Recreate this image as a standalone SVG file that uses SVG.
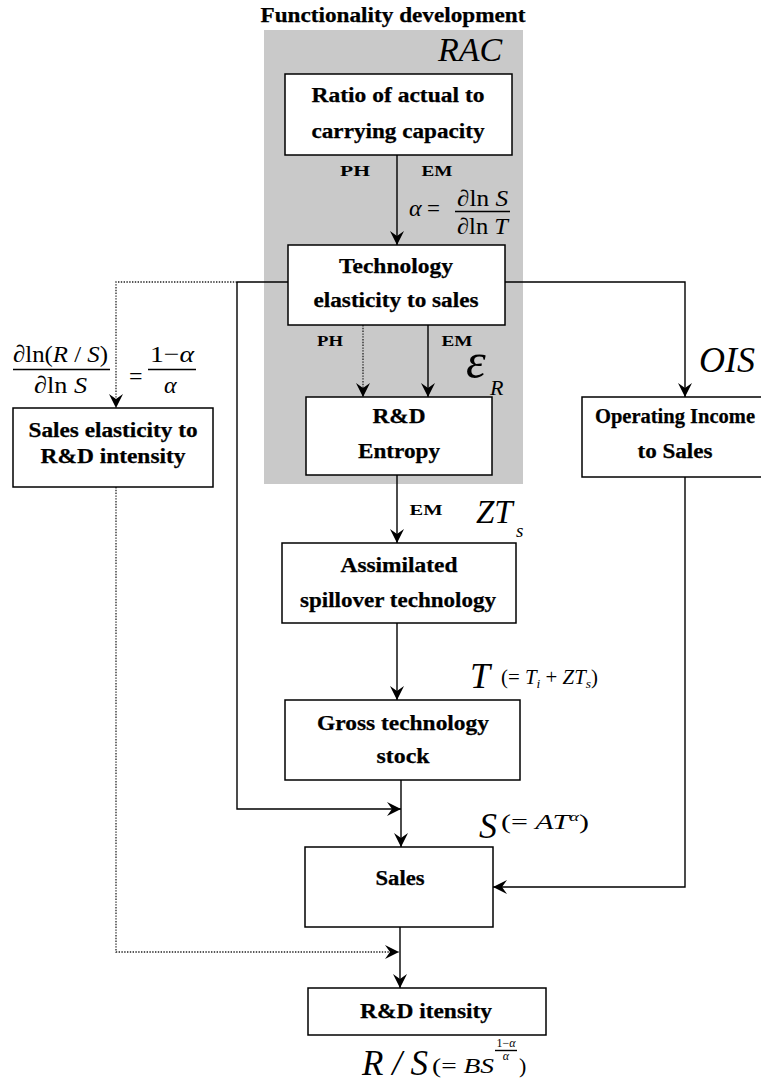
<svg xmlns="http://www.w3.org/2000/svg" width="761" height="1082" viewBox="0 0 761 1082">
<defs>
<marker id="ah" viewBox="-15 -8 16 16" refX="0" refY="0" markerWidth="16" markerHeight="16" markerUnits="userSpaceOnUse" orient="auto"><path d="M-14,-7 L0,0 L-14,7 L-9,0 Z" fill="#000"/></marker>
<style>
.box{fill:#fff;stroke:#000;stroke-width:1.5}
.ln{fill:none;stroke:#000;stroke-width:1.4}
.dt{fill:none;stroke:#222;stroke-width:1.3;stroke-dasharray:1.4 1.4}
.b{font-family:"Liberation Serif","Times New Roman",serif;font-weight:bold;font-size:20px;text-anchor:middle;fill:#000;stroke:#000;stroke-width:0.25}
.s{font-family:"Liberation Serif","Times New Roman",serif;font-weight:bold;font-size:15px;text-anchor:middle;fill:#000}
.m{font-family:"Liberation Serif","Times New Roman",serif;fill:#000}
.i{font-style:italic}
</style>
</defs>
<rect id="functionality-area" x="264" y="30" width="259" height="454" fill="#c9c9c9"/>
<text class="b" x="393" y="22" textLength="265" lengthAdjust="spacingAndGlyphs">Functionality development</text>
<text class="m i" x="438" y="61" font-size="34">RAC</text>

<g id="connectors">
<line class="ln" x1="397" y1="155" x2="397" y2="245" marker-end="url(#ah)"/>
<line class="dt" x1="363" y1="325" x2="363" y2="397" marker-end="url(#ah)"/>
<line class="ln" x1="428" y1="325" x2="428" y2="397" marker-end="url(#ah)"/>
<polyline class="ln" points="288,282 237,282"/>
<polyline class="dt" points="237,282 116,282 116,408" marker-end="url(#ah)"/>
<polyline class="ln" points="237,282 237,809 401,809" marker-end="url(#ah)"/>
<polyline class="ln" points="505,282 685,282 685,397" marker-end="url(#ah)"/>
<line class="ln" x1="397" y1="475" x2="397" y2="543" marker-end="url(#ah)"/>
<line class="ln" x1="397" y1="623" x2="397" y2="700" marker-end="url(#ah)"/>
<line class="ln" x1="401" y1="780" x2="401" y2="847" marker-end="url(#ah)"/>
<polyline class="ln" points="685,477 685,887 493,887" marker-end="url(#ah)"/>
<polyline class="dt" points="116,487 116,952 399,952" marker-end="url(#ah)"/>
<line class="ln" x1="400" y1="927" x2="400" y2="988" marker-end="url(#ah)"/>
</g>

<g id="node-ratio">
<rect class="box" x="285" y="74" width="227" height="81"/>
<text class="b" x="398" y="102" textLength="173" lengthAdjust="spacingAndGlyphs">Ratio of actual to</text>
<text class="b" x="398" y="138" textLength="173" lengthAdjust="spacingAndGlyphs">carrying capacity</text>
</g>
<g id="node-technology">
<rect class="box" x="288" y="245" width="217" height="80"/>
<text class="b" x="396" y="273" textLength="114" lengthAdjust="spacingAndGlyphs">Technology</text>
<text class="b" x="396" y="307" textLength="165" lengthAdjust="spacingAndGlyphs">elasticity to sales</text>
</g>
<g id="node-entropy">
<rect class="box" x="306" y="397" width="186" height="78"/>
<text class="b" x="399" y="423" textLength="53" lengthAdjust="spacingAndGlyphs">R&amp;D</text>
<text class="b" x="399" y="458" textLength="82" lengthAdjust="spacingAndGlyphs">Entropy</text>
</g>
<g id="node-sales-elasticity">
<rect class="box" x="13" y="408" width="200" height="79"/>
<text class="b" x="113" y="437" textLength="169" lengthAdjust="spacingAndGlyphs">Sales elasticity to</text>
<text class="b" x="113" y="463" textLength="145" lengthAdjust="spacingAndGlyphs">R&amp;D intensity</text>
</g>
<g id="node-operating">
<rect class="box" x="582" y="397" width="190" height="80"/>
<text class="b" x="675" y="423" textLength="160" lengthAdjust="spacingAndGlyphs">Operating Income</text>
<text class="b" x="675" y="458" textLength="75" lengthAdjust="spacingAndGlyphs">to Sales</text>
</g>
<g id="node-assimilated">
<rect class="box" x="282" y="543" width="234" height="80"/>
<text class="b" x="399" y="572" textLength="117" lengthAdjust="spacingAndGlyphs">Assimilated</text>
<text class="b" x="398" y="607" textLength="196" lengthAdjust="spacingAndGlyphs">spillover technology</text>
</g>
<g id="node-gross">
<rect class="box" x="285" y="700" width="235" height="80"/>
<text class="b" x="403" y="730" textLength="172" lengthAdjust="spacingAndGlyphs">Gross technology</text>
<text class="b" x="403" y="763" textLength="53" lengthAdjust="spacingAndGlyphs">stock</text>
</g>
<g id="node-sales">
<rect class="box" x="305" y="847" width="188" height="80"/>
<text class="b" x="400" y="885" textLength="49" lengthAdjust="spacingAndGlyphs">Sales</text>
</g>
<g id="node-rd-intensity">
<rect class="box" x="308" y="988" width="238" height="47"/>
<text class="b" x="426" y="1018" textLength="132" lengthAdjust="spacingAndGlyphs">R&amp;D itensity</text>
</g>

<g id="labels">
<text class="s" x="355" y="176" textLength="30" lengthAdjust="spacingAndGlyphs">PH</text>
<text class="s" x="437" y="176" textLength="31" lengthAdjust="spacingAndGlyphs">EM</text>
<text class="s" x="330" y="346" textLength="26" lengthAdjust="spacingAndGlyphs">PH</text>
<text class="s" x="457" y="346" textLength="31" lengthAdjust="spacingAndGlyphs">EM</text>
<text class="s" x="426" y="515" textLength="33" lengthAdjust="spacingAndGlyphs">EM</text>

<text class="m i" x="409" y="216" font-size="24">α</text>
<text class="m" x="427" y="216" font-size="23">=</text>
<text class="m" x="457" y="206" font-size="23" textLength="51" lengthAdjust="spacingAndGlyphs">∂ln <tspan class="i">S</tspan></text>
<line class="ln" x1="455" y1="211.5" x2="510" y2="211.5" stroke-width="1"/>
<text class="m" x="457" y="234" font-size="23" textLength="51" lengthAdjust="spacingAndGlyphs">∂ln <tspan class="i">T</tspan></text>

<text class="m i" x="466" y="378" font-size="50">ε</text>
<text class="m i" x="490" y="395" font-size="22">R</text>

<text class="m i" x="699" y="372" font-size="36">OIS</text>

<text class="m" x="13" y="362" font-size="24" textLength="95" lengthAdjust="spacingAndGlyphs">∂ln(<tspan class="i">R</tspan> / <tspan class="i">S</tspan>)</text>
<line class="ln" x1="13" y1="369.5" x2="110" y2="369.5" stroke-width="1"/>
<text class="m" x="34" y="393" font-size="24" textLength="53" lengthAdjust="spacingAndGlyphs">∂ln <tspan class="i">S</tspan></text>
<text class="m" x="129" y="384" font-size="24">=</text>
<text class="m" x="150" y="362" font-size="24" textLength="44" lengthAdjust="spacingAndGlyphs">1−<tspan class="i">α</tspan></text>
<line class="ln" x1="148" y1="369.5" x2="196" y2="369.5" stroke-width="1"/>
<text class="m i" x="164" y="393" font-size="24">α</text>

<text class="m i" x="476" y="523" font-size="33">ZT</text>
<text class="m i" x="516" y="537" font-size="19">s</text>

<text class="m i" x="470" y="688" font-size="36">T</text>
<text class="m" x="501" y="684" font-size="20" textLength="97" lengthAdjust="spacingAndGlyphs">(= <tspan class="i">T</tspan><tspan class="i" font-size="13" dy="4">i</tspan><tspan dy="-4"> + </tspan><tspan class="i">ZT</tspan><tspan class="i" font-size="13" dy="4">s</tspan><tspan dy="-4">)</tspan></text>

<text class="m i" x="479" y="838" font-size="36">S</text>
<text class="m" x="501" y="829" font-size="21" textLength="88" lengthAdjust="spacingAndGlyphs">(= <tspan class="i">AT</tspan><tspan class="i" font-size="13" dy="-8">α</tspan><tspan dy="8">)</tspan></text>

<text class="m i" x="362" y="1075" font-size="35">R / S</text>
<text class="m" x="432" y="1073" font-size="22" textLength="62" lengthAdjust="spacingAndGlyphs">(= <tspan class="i">BS</tspan></text>
<text class="m" x="506" y="1047" font-size="12" text-anchor="middle">1−<tspan class="i">α</tspan></text>
<line class="ln" x1="495" y1="1050.5" x2="517" y2="1050.5" stroke-width="0.8"/>
<text class="m i" x="506" y="1060" font-size="12" text-anchor="middle">α</text>
<text class="m" x="519" y="1073" font-size="22">)</text>
</g>
</svg>
